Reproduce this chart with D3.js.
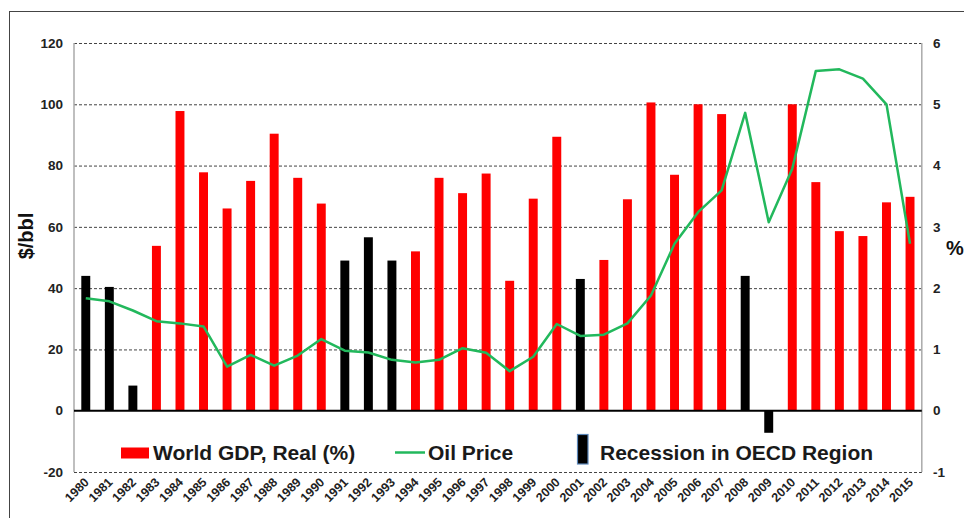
<!DOCTYPE html>
<html>
<head>
<meta charset="utf-8">
<script src="https://cdn.jsdelivr.net/npm/d3@7"></script>
<style>
  body { margin: 0; background: #fff; }
  svg { display: block; font-family: "Liberation Sans", Arial, sans-serif; }
</style>
</head>
<body>
<svg class="chart"></svg>
<script>
const width = 964, height = 518;
const mLeft = 74, mRight = 921.8, mTop = 43, mBottom = 472;

const years = d3.range(1980, 2016).map(String);
// world GDP growth, %
const gdp = [2.2, 2.02, 0.41, 2.69, 4.89, 3.89, 3.3, 3.75, 4.52, 3.8, 3.38, 2.45,
  2.83, 2.45, 2.6, 3.8, 3.55, 3.87, 2.12, 3.46, 4.47, 2.15, 2.46, 3.45,
  5.03, 3.85, 5.0, 4.84, 2.2, -0.36, 5.0, 3.73, 2.93, 2.85, 3.4, 3.49];
// oil price, $/bbl
const oil = [36.7, 35.7, 32.7, 29.2, 28.5, 27.5, 14.4, 18.2, 14.7, 18, 23.4, 19.6,
  19, 16.6, 15.7, 16.6, 20.4, 18.9, 12.9, 17.6, 28.3, 24.4, 24.8, 28.5,
  37.6, 54.5, 64.8, 71.9, 97.2, 61.5, 79, 110.9, 111.4, 108.4, 100, 54.5];
const recessions = ["1980", "1981", "1982", "1991", "1992", "1993", "2001", "2008", "2009"];
const leftTicks = [-20, 0, 20, 40, 60, 80, 100, 120];
const rightTicks = [-1, 0, 1, 2, 3, 4, 5, 6];

const data = years.map((y, i) => ({year: y, gdp: gdp[i], oil: oil[i], rec: recessions.includes(y)}));

const x = d3.scaleBand().domain(years).range([mLeft, mRight]).paddingInner(0.62).paddingOuter(0.31);
const yL = d3.scaleLinear().domain([-20, 120]).range([mBottom, mTop]);
const yR = d3.scaleLinear().domain([-1, 6]).range([mBottom, mTop]);
const cx = d => x(d) + x.bandwidth() / 2;

const svg = d3.select(".chart").attr("width", width).attr("height", height);

// outer frame
svg.append("rect")
  .attr("x", 9.5).attr("y", 11.5)
  .attr("width", 1000).attr("height", 1000)
  .attr("fill", "none").attr("stroke", "#444");

// dashed grid
svg.append("g")
  .selectAll("line")
  .data(leftTicks.filter(t => t !== 0))
  .enter().append("line")
    .attr("x1", mLeft).attr("x2", mRight)
    .attr("y1", d => yL(d) + 0.5).attr("y2", d => yL(d) + 0.5)
    .attr("stroke", "#444")
    .attr("stroke-dasharray", "3,2");

// plot side edges
svg.append("g")
  .selectAll("line")
  .data([mLeft, mRight])
  .enter().append("line")
    .attr("x1", d => d).attr("x2", d => d)
    .attr("y1", mTop).attr("y2", mBottom)
    .attr("stroke", "#aaa")
    .attr("stroke-width", 1.5);

// bars
svg.append("g")
  .selectAll("rect")
  .data(data)
  .enter().append("rect")
    .attr("x", d => x(d.year))
    .attr("width", x.bandwidth())
    .attr("y", d => yR(Math.max(0, d.gdp)))
    .attr("height", d => Math.abs(yR(d.gdp) - yR(0)))
    .attr("fill", d => d.rec ? "#000" : "#ff0000");

// zero line
svg.append("line")
  .attr("x1", mLeft).attr("x2", mRight)
  .attr("y1", yL(0)).attr("y2", yL(0))
  .attr("stroke", "#000").attr("stroke-width", 2);

// oil price line
svg.append("path")
  .datum(data)
  .attr("fill", "none")
  .attr("stroke", "#22b85c")
  .attr("stroke-width", 2.5)
  .attr("stroke-linejoin", "round")
  .attr("d", d3.line().x(d => cx(d.year)).y(d => yL(d.oil)));

// axes labels
svg.append("g")
  .attr("font-size", 13.5).attr("font-weight", "bold").attr("fill", "#222")
  .selectAll("text")
  .data(leftTicks)
  .enter().append("text")
    .attr("x", 63).attr("y", d => yL(d))
    .attr("dy", "0.35em")
    .attr("text-anchor", "end")
    .text(d => d);

svg.append("g")
  .attr("font-size", 13.5).attr("font-weight", "bold").attr("fill", "#222")
  .selectAll("text")
  .data(rightTicks)
  .enter().append("text")
    .attr("x", 933).attr("y", d => yR(d))
    .attr("dy", "0.35em")
    .text(d => d);

svg.append("g")
  .attr("font-size", 12.5).attr("font-weight", "bold").attr("fill", "#222")
  .selectAll("text")
  .data(years)
  .enter().append("text")
    .attr("text-anchor", "end")
    .attr("transform", d => `translate(${cx(d) + 4},${mBottom + 11}) rotate(-45)`)
    .text(d => d);

svg.append("text")
  .attr("transform", `translate(33,236) rotate(-90)`)
  .attr("text-anchor", "middle")
  .attr("font-size", 20).attr("font-weight", "bold").attr("fill", "#111")
  .text("$/bbl");

svg.append("text")
  .attr("x", 946).attr("y", 255)
  .attr("font-size", 20).attr("font-weight", "bold").attr("fill", "#111")
  .text("%");

// legend
const legend = svg.append("g").attr("font-size", 21).attr("font-weight", "bold").attr("fill", "#1a1a1a");
legend.append("rect").attr("x", 121).attr("y", 447.5).attr("width", 28).attr("height", 11).attr("fill", "#ff0000");
legend.append("text").attr("x", 153).attr("y", 460).text("World GDP, Real (%)");
legend.append("line").attr("x1", 395).attr("x2", 425).attr("y1", 452.5).attr("y2", 452.5)
  .attr("stroke", "#22b85c").attr("stroke-width", 2.5);
legend.append("text").attr("x", 428).attr("y", 460).text("Oil Price");
legend.append("rect").attr("x", 577.5).attr("y", 434.5).attr("width", 10.5).attr("height", 29.5)
  .attr("fill", "#000").attr("stroke", "#5b86b8").attr("stroke-width", 1.2);
legend.append("text").attr("x", 600).attr("y", 460).text("Recession in OECD Region");
</script>
</body>
</html>
